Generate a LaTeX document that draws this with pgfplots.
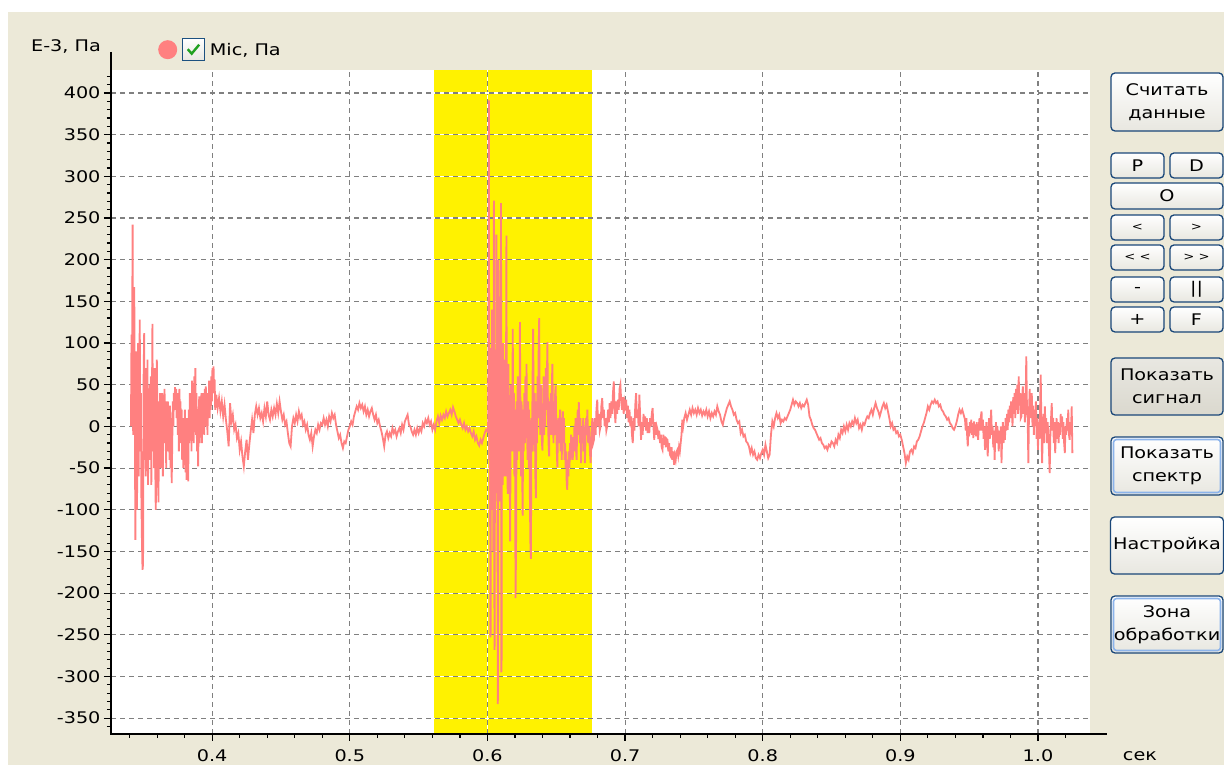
\documentclass[border=0pt]{standalone}
\usepackage{pgfplots}
\pgfplotsset{compat=1.18}
\usepackage{fontspec}
\setmainfont{DejaVu Sans}[FakeStretch=1.2]
\definecolor{pagebg}{RGB}{236,233,216}
\definecolor{sigred}{RGB}{255,128,128}
\definecolor{zone}{RGB}{255,242,0}
\definecolor{gridgray}{RGB}{128,128,128}
\definecolor{btnborder}{RGB}{25,70,120}
\definecolor{btnbot}{RGB}{232,231,224}
\definecolor{btngray}{RGB}{218,216,206}
\definecolor{focusblue}{RGB}{140,180,235}
\definecolor{chkborder}{RGB}{28,81,128}
\definecolor{chkgreen}{RGB}{33,161,33}
\newcommand\uifont{\fontsize{16}{23.5}\selectfont}
\tikzset{btn/.style={draw=btnborder, line width=1.3pt, rounded corners=4pt, top color=white, bottom color=btnbot},
  btnlabel/.style={font=\uifont, align=center, inner sep=0pt}}
\begin{document}
\begin{tikzpicture}[x=1pt,y=1pt]
\useasboundingbox (0,0) rectangle (1224,765);
\fill[white] (0,0) rectangle (1224,765);
\fill[pagebg] (8,0) rectangle (1224,753);
\fill[white] (111,31) rectangle (1090,695);
\begin{axis}[at={(111pt,31pt)}, anchor=south west, scale only axis, width=979pt, height=664pt,
  xmin=0.3265, xmax=1.0378, ymin=-369, ymax=427.6, hide axis]
\addplot[fill=zone, draw=none] coordinates {(0.5610,-369) (0.6758,-369) (0.6758,427.6) (0.5610,427.6)} -- cycle;
\end{axis}
\begin{axis}[at={(111pt,31pt)}, anchor=south west, scale only axis, width=979pt, height=664pt,
  xmin=0.3265, xmax=1.0378, ymin=-369, ymax=427.6,
  axis line style={draw=none},
  tick pos=left, tick align=outside,
  major tick length=7pt, minor tick length=4pt,
  every tick/.style={black, line width=1.2pt},
  xtick={0.4,0.5,0.6,0.7,0.8,0.9,1.0},
  xticklabels={0.4,0.5,0.6,0.7,0.8,0.9,1.0},
  minor xtick={0.34,0.36,0.38,0.42,0.44,0.46,0.48,0.52,0.54,0.56,0.58,0.62,0.64,0.66,0.68,0.72,0.74,0.76,0.78,0.82,0.84,0.86,0.88,0.92,0.94,0.96,0.98,1.02},
  ytick={-350,-300,...,400},
  minor ytick={-360,-350,...,420},
  xmajorgrids, ymajorgrids,
  major grid style={draw=white, line width=1.1pt, postaction={draw=gridgray, dash pattern=on 5pt off 4pt}},
  tick label style={font=\uifont},
  xticklabel style={yshift=-5pt},
  /pgf/number format/assume math mode=true,
  ylabel={E-3, Па},
  ylabel style={rotate=-90, at={(axis description cs:-0.0102,1.036)}, anchor=east, font=\uifont, inner sep=0pt},
  xlabel={сек},
  xlabel style={at={(axis description cs:1.051,-0.033)}, anchor=center, font=\uifont, inner sep=0pt},
  legend style={at={(axis description cs:0.048,1.0306)}, anchor=west, draw=none, fill=none, inner sep=0pt, font=\uifont},
  legend image code/.code={
    \fill[sigred, draw=none] (9.5pt,0pt) circle (9.5pt);
    \draw[line width=1.3pt, draw=chkborder, top color=white, bottom color=btnbot] (24pt,-11pt) rectangle (46pt,11pt);
    \draw[line width=2.4pt, draw=chkgreen] (29.5pt,0.5pt) -- (33.5pt,-4pt) -- (41pt,5pt);
  },
]
\addplot[sigred, line width=1.8pt] table[row sep=\\] {x y\\
0.3410 0\\ 0.3414 110\\ 0.3418 80\\ 0.3422 242\\ 0.3426 -10\\ 0.3430 60\\ 0.3434 167\\ 0.3438 20\\ 0.3442 -136\\ 0.3446 -40\\
0.3450 90\\ 0.3454 -100\\ 0.3458 30\\ 0.3462 100\\ 0.3466 -60\\ 0.3470 50\\ 0.3474 128\\ 0.3478 -30\\ 0.3482 40\\ 0.3486 -90\\
0.3490 -140\\ 0.3494 -172\\ 0.3498 -165\\ 0.3502 60\\ 0.3506 112\\ 0.3510 -40\\ 0.3514 20\\ 0.3518 -60\\ 0.3522 70\\ 0.3526 -20\\
0.3530 80\\ 0.3534 -70\\ 0.3538 30\\ 0.3542 -40\\ 0.3546 50\\ 0.3550 -30\\ 0.3554 60\\ 0.3558 -70\\ 0.3562 20\\ 0.3566 123\\
0.3570 -30\\ 0.3574 50\\ 0.3578 -50\\ 0.3582 70\\ 0.3586 -40\\ 0.3590 -100\\ 0.3594 -60\\ 0.3598 80\\ 0.3602 10\\ 0.3606 -40\\
0.3610 -91\\ 0.3614 30\\ 0.3618 -20\\ 0.3622 40\\ 0.3626 -50\\ 0.3630 30\\ 0.3634 -30\\ 0.3638 40\\ 0.3642 -60\\ 0.3646 20\\
0.3650 -20\\ 0.3654 45\\ 0.3658 -10\\ 0.3662 30\\ 0.3666 -50\\ 0.3670 20\\ 0.3674 -30\\ 0.3678 30\\ 0.3682 -20\\ 0.3686 10\\
0.3690 -40\\ 0.3694 25\\ 0.3698 -50\\ 0.3702 10\\ 0.3706 -68\\ 0.3710 -20\\ 0.3714 30\\ 0.3718 0\\ 0.3722 40\\ 0.3726 20\\
0.3730 47\\ 0.3734 30\\ 0.3738 45\\ 0.3742 10\\ 0.3746 40\\ 0.3750 -10\\ 0.3754 30\\ 0.3758 -30\\ 0.3762 45\\ 0.3766 10\\
0.3770 30\\ 0.3774 -20\\ 0.3778 20\\ 0.3782 -40\\ 0.3786 0\\ 0.3790 -50\\ 0.3794 10\\ 0.3798 -30\\ 0.3802 20\\ 0.3806 -55\\
0.3810 -20\\ 0.3814 -64\\ 0.3818 10\\ 0.3822 -40\\ 0.3826 -66\\ 0.3830 20\\ 0.3834 -20\\ 0.3838 40\\ 0.3842 -10\\ 0.3846 30\\
0.3850 -30\\ 0.3854 55\\ 0.3858 0\\ 0.3862 40\\ 0.3866 -20\\ 0.3870 60\\ 0.3874 10\\ 0.3878 70\\ 0.3882 -10\\ 0.3886 40\\
0.3890 -30\\ 0.3894 20\\ 0.3898 -48\\ 0.3902 10\\ 0.3906 36\\ 0.3910 -20\\ 0.3914 30\\ 0.3918 0\\ 0.3922 40\\ 0.3926 -20\\
0.3930 30\\ 0.3934 10\\ 0.3938 40\\ 0.3942 -10\\ 0.3946 45\\ 0.3950 10\\ 0.3954 48\\ 0.3958 0\\ 0.3962 30\\ 0.3966 -10\\
0.3970 40\\ 0.3974 20\\ 0.3978 55\\ 0.3982 10\\ 0.3986 45\\ 0.3990 20\\ 0.3994 60\\ 0.3998 30\\ 0.4002 70\\ 0.4006 40\\
0.4010 72\\ 0.4014 45\\ 0.4018 56\\ 0.4022 20\\
0.403 38\\ 0.404 22\\ 0.405 34\\ 0.406 18\\ 0.407 30\\ 0.408 12\\ 0.409 26\\ 0.410 8\\ 0.411 -6\\ 0.412 -24\\
0.413 28\\ 0.414 6\\ 0.415 14\\ 0.416 -4\\ 0.417 2\\ 0.418 -14\\ 0.419 -8\\ 0.420 -28\\ 0.421 -18\\ 0.422 -36\\
0.423 -48\\ 0.424 -30\\ 0.425 -16\\ 0.426 -40\\ 0.427 -22\\ 0.428 -6\\ 0.429 8\\ 0.430 -8\\ 0.431 14\\ 0.432 24\\
0.433 14\\ 0.434 22\\ 0.435 10\\ 0.436 16\\ 0.437 6\\ 0.438 22\\ 0.439 12\\ 0.440 30\\ 0.441 14\\ 0.442 8\\
0.443 20\\ 0.444 12\\ 0.445 22\\ 0.446 14\\ 0.447 27\\ 0.448 16\\ 0.449 30\\ 0.450 18\\ 0.451 8\\ 0.452 14\\
0.453 2\\ 0.454 6\\ 0.455 -8\\ 0.456 -20\\ 0.457 -24\\ 0.458 0\\ 0.459 10\\ 0.460 4\\ 0.461 14\\ 0.462 6\\
0.463 18\\ 0.464 10\\ 0.465 14\\ 0.466 2\\ 0.467 6\\ 0.468 -4\\ 0.469 2\\ 0.470 -10\\ 0.471 -16\\ 0.472 -8\\
0.473 -24\\ 0.474 -12\\ 0.475 -4\\ 0.476 -8\\ 0.477 2\\ 0.478 -4\\ 0.479 4\\ 0.480 2\\ 0.481 10\\ 0.482 2\\
0.483 8\\ 0.484 0\\ 0.485 12\\ 0.486 6\\ 0.487 16\\ 0.488 10\\ 0.489 14\\ 0.490 2\\ 0.491 -6\\ 0.492 -14\\
0.493 -10\\ 0.494 -20\\ 0.495 -26\\ 0.496 -18\\ 0.497 -20\\ 0.498 -12\\ 0.499 -4\\ 0.500 0\\ 0.501 6\\ 0.502 2\\
0.503 12\\ 0.504 18\\ 0.505 24\\ 0.506 20\\ 0.507 28\\ 0.508 22\\ 0.509 26\\ 0.510 18\\ 0.511 24\\ 0.512 14\\
0.513 20\\ 0.514 12\\ 0.515 18\\ 0.516 22\\ 0.517 14\\ 0.518 8\\ 0.519 14\\ 0.520 4\\ 0.521 8\\ 0.522 0\\
0.523 -6\\ 0.524 -14\\ 0.525 -24\\ 0.526 -10\\ 0.527 -6\\ 0.528 -14\\ 0.529 -8\\ 0.530 -12\\ 0.531 -2\\ 0.532 -8\\
0.533 -4\\ 0.534 -12\\ 0.535 -6\\ 0.536 -2\\ 0.537 -8\\ 0.538 2\\ 0.539 -4\\ 0.540 6\\ 0.541 10\\ 0.542 14\\
0.543 2\\ 0.544 0\\ 0.545 -6\\ 0.546 -10\\ 0.547 -4\\ 0.548 -10\\ 0.549 -2\\ 0.550 -8\\ 0.551 -2\\ 0.552 -6\\
0.553 4\\ 0.554 0\\ 0.555 8\\ 0.556 4\\ 0.557 10\\ 0.558 2\\ 0.559 6\\ 0.560 -4\\ 0.561 2\\ 0.562 -4\\
0.563 6\\ 0.564 12\\ 0.565 4\\ 0.566 13\\ 0.567 8\\ 0.568 14\\ 0.569 10\\ 0.570 18\\ 0.571 12\\ 0.572 16\\
0.573 20\\ 0.574 14\\ 0.575 23\\ 0.576 18\\ 0.577 12\\ 0.578 8\\ 0.579 4\\ 0.580 8\\ 0.581 2\\ 0.582 -2\\
0.583 4\\ 0.584 -4\\ 0.585 0\\ 0.586 -6\\ 0.587 -2\\ 0.588 -8\\ 0.589 -12\\ 0.590 -6\\ 0.591 -16\\ 0.592 -12\\
0.593 -20\\ 0.594 -23\\ 0.595 -16\\ 0.596 -20\\ 0.597 -14\\ 0.598 -8\\ 0.599 -4\\ 0.600 -6\\
0.6005 0\\ 0.6008 90\\ 0.6011 391\\ 0.6013 -40\\ 0.6015 80\\ 0.6017 -120\\ 0.6019 94\\ 0.6021 -253\\ 0.6023 -250\\ 0.6025 60\\
0.6027 -80\\ 0.6029 90\\ 0.6031 -60\\ 0.6033 140\\ 0.6035 -100\\ 0.6037 85\\ 0.6039 -70\\ 0.6041 94\\ 0.6043 -150\\ 0.6045 60\\
0.6047 271\\ 0.6049 -30\\ 0.6051 -268\\ 0.6053 -260\\ 0.6055 80\\ 0.6057 -60\\ 0.6059 92\\ 0.6061 -80\\ 0.6063 50\\ 0.6065 230\\
0.6067 -40\\ 0.6069 70\\ 0.6071 -90\\ 0.6073 60\\ 0.6075 -333\\ 0.6077 -320\\ 0.6079 50\\ 0.6081 200\\ 0.6083 -70\\ 0.6085 90\\
0.6087 -60\\ 0.6089 70\\ 0.6091 -90\\ 0.6093 40\\ 0.6095 -80\\ 0.6097 80\\ 0.6099 268\\ 0.6101 -295\\ 0.6103 -280\\ 0.6105 60\\
0.6107 -40\\ 0.6109 90\\ 0.6111 -70\\ 0.6113 40\\ 0.6115 100\\ 0.6117 -60\\ 0.6119 50\\ 0.6121 -50\\ 0.6123 70\\ 0.6126 -20\\
0.6129 80\\ 0.6132 -60\\ 0.6135 60\\ 0.6138 229\\ 0.6141 -40\\ 0.6144 40\\ 0.6147 -81\\ 0.6150 20\\ 0.6153 75\\ 0.6156 -40\\
0.6159 30\\ 0.6162 -60\\ 0.6165 -138\\ 0.6168 -20\\ 0.6171 50\\ 0.6174 -30\\ 0.6177 40\\
0.6180 -20\\ 0.6184 117\\ 0.6188 -30\\ 0.6192 40\\ 0.6196 -60\\ 0.6200 20\\ 0.6204 -206\\ 0.6208 -150\\ 0.6212 30\\ 0.6216 -40\\
0.6220 60\\ 0.6224 -20\\ 0.6228 50\\ 0.6232 -30\\ 0.6236 125\\ 0.6240 10\\ 0.6244 -60\\ 0.6248 30\\ 0.6252 -50\\ 0.6256 -107\\
0.6260 20\\ 0.6264 -30\\ 0.6268 40\\ 0.6272 -20\\ 0.6276 60\\ 0.6280 0\\ 0.6284 75\\ 0.6288 -10\\ 0.6292 -40\\ 0.6296 30\\
0.6300 -50\\ 0.6304 20\\ 0.6308 -80\\ 0.6312 -140\\ 0.6316 -159\\ 0.6320 10\\ 0.6324 -30\\ 0.6328 60\\ 0.6332 117\\ 0.6336 20\\
0.6340 -30\\ 0.6344 40\\ 0.6348 -60\\ 0.6352 -86\\ 0.6356 30\\ 0.6360 -20\\ 0.6364 60\\ 0.6368 10\\ 0.6372 90\\ 0.6376 130\\
0.6380 20\\ 0.6384 -10\\ 0.6388 50\\ 0.6392 0\\ 0.6396 -20\\ 0.6400 -29\\ 0.6404 20\\ 0.6408 60\\ 0.6412 -10\\ 0.6416 40\\
0.6420 0\\ 0.6424 70\\ 0.6428 20\\ 0.6432 60\\ 0.6436 101\\ 0.6440 10\\ 0.6444 -20\\ 0.6448 -36\\ 0.6452 30\\ 0.6456 0\\
0.6460 40\\ 0.6464 -10\\ 0.6468 50\\ 0.6472 75\\ 0.6476 10\\ 0.6480 -20\\ 0.6484 30\\ 0.6488 -10\\ 0.6492 40\\ 0.6496 49\\
0.6500 0\\ 0.6504 -30\\ 0.6508 -49\\ 0.6512 -10\\ 0.6516 10\\ 0.6520 -20\\ 0.6524 0\\ 0.6528 20\\ 0.6532 -30\\ 0.6536 10\\
0.6540 -40\\ 0.6544 0\\ 0.6548 18\\ 0.6552 -20\\ 0.6556 10\\ 0.6560 -40\\ 0.6564 -20\\ 0.6568 -50\\ 0.6572 -30\\ 0.6576 -70\\
0.6580 -76\\ 0.6584 -40\\ 0.6588 -60\\ 0.6592 -30\\ 0.6596 -50\\ 0.6600 -20\\ 0.6604 -40\\ 0.6608 -10\\ 0.6612 -30\\ 0.6616 -13\\
0.6620 -40\\ 0.6624 -20\\ 0.6628 -30\\ 0.6632 0\\ 0.6636 -20\\ 0.6640 10\\ 0.6644 -30\\ 0.6648 -40\\ 0.6652 0\\ 0.6656 20\\
0.6660 -10\\ 0.6664 29\\ 0.6668 0\\ 0.6672 -20\\ 0.6676 10\\ 0.6680 -44\\ 0.6684 -20\\ 0.6688 0\\ 0.6692 -10\\ 0.6696 10\\
0.6700 -30\\ 0.6704 0\\ 0.6708 -44\\ 0.6712 -20\\ 0.6716 10\\
0.6720 -10\\ 0.6726 20\\ 0.6732 -20\\ 0.6738 0\\ 0.6744 -30\\ 0.6750 -44\\ 0.6756 -10\\ 0.6762 10\\ 0.6768 -20\\ 0.6774 -16\\
0.6780 10\\ 0.6786 -10\\ 0.6792 20\\ 0.6798 32\\ 0.6804 0\\ 0.6810 15\\ 0.6816 -5\\ 0.6822 0\\ 0.6828 25\\ 0.6834 34\\
0.6840 10\\ 0.6846 20\\ 0.6852 0\\ 0.6858 10\\ 0.6864 -5\\ 0.6870 0\\ 0.6876 20\\ 0.6882 5\\ 0.6888 28\\ 0.6894 10\\
0.6900 30\\ 0.6906 15\\ 0.6912 40\\ 0.6918 54\\ 0.6924 20\\ 0.6930 4\\ 0.6936 30\\ 0.6942 15\\ 0.6948 32\\ 0.6954 20\\
0.6960 45\\ 0.6966 50\\ 0.6972 30\\ 0.6978 20\\ 0.6984 35\\ 0.6990 15\\ 0.6996 30\\ 0.7002 25\\ 0.7008 32\\ 0.7014 10\\
0.7020 25\\ 0.7026 5\\ 0.7032 20\\ 0.7038 0\\ 0.7044 12\\ 0.7050 -10\\ 0.7056 -20\\ 0.7062 10\\ 0.7068 -5\\ 0.7074 25\\
0.7080 40\\ 0.7086 10\\ 0.7092 20\\ 0.7098 0\\ 0.7104 38\\ 0.7110 10\\ 0.7116 -16\\ 0.7122 5\\ 0.7128 -10\\ 0.7134 15\\
0.7140 0\\ 0.7146 12\\ 0.7152 -5\\ 0.7158 10\\ 0.7164 -8\\ 0.7170 5\\ 0.7176 -8\\ 0.7182 10\\ 0.7188 0\\ 0.7194 15\\
0.7200 22\\ 0.7206 0\\ 0.7212 -16\\ 0.7218 5\\ 0.7224 -10\\ 0.7230 0\\ 0.7236 -4\\ 0.7242 -15\\ 0.7248 -5\\ 0.7254 -20\\
0.7260 -10\\ 0.7266 -25\\ 0.7272 -28\\ 0.7278 -10\\ 0.7284 -22\\ 0.7290 -12\\ 0.7296 -25\\ 0.7302 -15\\ 0.7308 -16\\ 0.7314 -30\\
0.7320 -20\\ 0.7326 -34\\ 0.7332 -36\\ 0.7338 -25\\ 0.7344 -40\\ 0.7350 -30\\ 0.7356 -46\\ 0.7362 -35\\ 0.7368 -40\\ 0.7374 -30\\
0.7380 -28\\ 0.7386 -35\\ 0.7392 -25\\ 0.7398 -30\\ 0.7404 -20\\ 0.7410 -10\\ 0.7416 8\\ 0.7422 0\\
0.743 10\\ 0.744 16\\ 0.745 8\\ 0.746 14\\ 0.747 20\\ 0.748 14\\ 0.749 22\\ 0.750 16\\ 0.751 20\\ 0.752 14\\
0.753 22\\ 0.754 16\\ 0.755 20\\ 0.756 13\\ 0.757 18\\ 0.758 14\\ 0.759 20\\ 0.760 12\\ 0.761 18\\ 0.762 10\\
0.763 16\\ 0.764 12\\ 0.765 18\\ 0.766 14\\ 0.767 24\\ 0.768 18\\ 0.769 14\\ 0.770 6\\ 0.771 2\\ 0.772 10\\
0.773 16\\ 0.774 22\\ 0.775 26\\ 0.776 30\\ 0.777 24\\ 0.778 20\\ 0.779 14\\ 0.780 16\\ 0.781 8\\ 0.782 4\\
0.783 6\\ 0.784 -8\\ 0.785 -4\\ 0.786 -12\\ 0.787 -10\\ 0.788 -18\\ 0.789 -20\\ 0.790 -24\\ 0.791 -32\\ 0.792 -26\\
0.793 -34\\ 0.794 -30\\ 0.795 -38\\ 0.796 -40\\ 0.797 -34\\ 0.798 -38\\ 0.799 -32\\ 0.800 -28\\ 0.801 -34\\ 0.802 -22\\
0.803 -30\\ 0.804 -38\\ 0.805 -34\\ 0.806 -10\\ 0.807 6\\ 0.808 0\\ 0.809 10\\ 0.810 16\\ 0.811 10\\ 0.812 14\\
0.813 4\\ 0.814 8\\ 0.815 6\\ 0.816 10\\ 0.817 8\\ 0.818 12\\ 0.819 16\\ 0.820 20\\ 0.821 26\\ 0.822 32\\
0.823 26\\ 0.824 30\\ 0.825 28\\ 0.826 24\\ 0.827 28\\ 0.828 22\\ 0.829 26\\ 0.830 24\\ 0.831 28\\ 0.832 32\\
0.833 26\\ 0.834 12\\ 0.835 8\\ 0.836 2\\ 0.837 -2\\ 0.838 -4\\ 0.839 -8\\ 0.840 -12\\ 0.841 -16\\ 0.842 -14\\
0.843 -20\\ 0.844 -22\\ 0.845 -26\\ 0.846 -24\\ 0.847 -28\\ 0.848 -22\\ 0.849 -24\\ 0.850 -18\\
0.851 -20\\ 0.852 -24\\ 0.853 -16\\ 0.854 -20\\ 0.855 -10\\ 0.856 -14\\ 0.857 -4\\ 0.858 -8\\ 0.859 0\\ 0.860 -6\\
0.861 2\\ 0.862 -4\\ 0.863 4\\ 0.864 0\\ 0.865 6\\ 0.866 2\\ 0.867 10\\ 0.868 4\\ 0.869 8\\ 0.870 -2\\
0.871 2\\ 0.872 -4\\ 0.873 4\\ 0.874 2\\ 0.875 8\\ 0.876 12\\ 0.877 10\\ 0.878 16\\ 0.879 20\\ 0.880 14\\
0.881 22\\ 0.882 28\\ 0.883 22\\ 0.884 18\\ 0.885 12\\ 0.886 18\\ 0.887 24\\ 0.888 28\\ 0.889 22\\ 0.890 26\\
0.891 18\\ 0.892 10\\ 0.893 0\\ 0.894 4\\ 0.895 -4\\ 0.896 -2\\ 0.897 -8\\ 0.898 -6\\ 0.899 -12\\ 0.900 -10\\
0.901 -16\\ 0.902 -24\\ 0.903 -32\\ 0.904 -44\\ 0.905 -36\\ 0.906 -40\\ 0.907 -30\\ 0.908 -28\\ 0.909 -32\\ 0.910 -24\\
0.911 -26\\ 0.912 -18\\ 0.913 -16\\ 0.914 -12\\ 0.915 -6\\ 0.916 0\\ 0.917 4\\ 0.918 10\\ 0.919 16\\ 0.920 24\\
0.921 20\\ 0.922 26\\ 0.923 30\\ 0.924 28\\ 0.925 32\\ 0.926 28\\ 0.927 30\\ 0.928 24\\ 0.929 26\\ 0.930 20\\
0.931 18\\ 0.932 14\\ 0.933 12\\ 0.934 8\\ 0.935 10\\ 0.936 4\\ 0.937 2\\ 0.938 -2\\ 0.939 -4\\ 0.940 0\\
0.941 6\\ 0.942 14\\ 0.943 20\\ 0.944 16\\ 0.945 20\\ 0.946 14\\
0.9470 8\\ 0.9475 -5\\ 0.9480 10\\ 0.9485 -10\\ 0.9490 -24\\ 0.9495 0\\ 0.9500 -12\\ 0.9505 5\\ 0.9510 -8\\ 0.9515 8\\
0.9520 -10\\ 0.9525 4\\ 0.9530 -14\\ 0.9535 6\\ 0.9540 -10\\ 0.9545 2\\ 0.9550 -12\\ 0.9555 5\\ 0.9560 -8\\ 0.9565 -16\\
0.9570 0\\ 0.9575 10\\ 0.9580 -5\\ 0.9585 12\\ 0.9590 18\\ 0.9595 -5\\ 0.9600 8\\ 0.9605 -15\\ 0.9610 0\\ 0.9615 -28\\
0.9620 -10\\ 0.9625 5\\ 0.9630 -20\\ 0.9635 -36\\ 0.9640 -5\\ 0.9645 10\\ 0.9650 -15\\ 0.9655 5\\ 0.9660 20\\ 0.9665 -10\\
0.9670 0\\ 0.9675 -25\\ 0.9680 -5\\ 0.9685 -40\\ 0.9690 -10\\ 0.9695 5\\ 0.9700 -20\\ 0.9705 0\\ 0.9710 -12\\ 0.9715 -30\\
0.9720 -5\\ 0.9725 -20\\ 0.9730 0\\ 0.9735 -44\\ 0.9740 -10\\ 0.9745 5\\ 0.9750 -20\\ 0.9755 0\\ 0.9760 -16\\ 0.9765 10\\
0.9770 -5\\ 0.9775 15\\ 0.9780 -4\\ 0.9785 20\\ 0.9790 5\\ 0.9795 25\\ 0.9800 10\\ 0.9805 30\\ 0.9810 24\\ 0.9815 0\\
0.9820 35\\ 0.9825 15\\ 0.9830 40\\ 0.9835 10\\ 0.9840 45\\ 0.9845 20\\ 0.9850 50\\ 0.9855 15\\ 0.9860 60\\ 0.9865 25\\
0.9870 40\\ 0.9875 10\\ 0.9880 12\\ 0.9885 35\\ 0.9890 48\\ 0.9895 15\\ 0.9900 40\\ 0.9905 5\\ 0.9910 30\\ 0.9915 84\\
0.9920 20\\ 0.9925 10\\ 0.9930 -44\\ 0.9935 20\\ 0.9940 45\\ 0.9945 10\\ 0.9950 30\\ 0.9955 40\\ 0.9960 0\\ 0.9965 25\\
0.9970 -10\\ 0.9975 20\\ 0.9980 4\\ 0.9985 30\\ 0.9990 -15\\ 0.9995 10\\ 1.0000 -28\\ 1.0005 5\\ 1.0010 -15\\ 1.0015 20\\
1.0020 62\\ 1.0025 0\\ 1.0030 -44\\ 1.0035 -10\\ 1.0040 15\\ 1.0045 -20\\ 1.0050 24\\ 1.0055 -5\\ 1.0060 10\\ 1.0065 -20\\
1.0070 5\\ 1.0075 -8\\ 1.0080 -30\\ 1.0085 -56\\ 1.0090 -10\\ 1.0095 10\\ 1.0100 28\\ 1.0105 -5\\ 1.0110 10\\ 1.0115 -20\\
1.0120 5\\ 1.0125 -32\\ 1.0130 -10\\ 1.0135 10\\ 1.0140 -15\\ 1.0145 5\\ 1.0150 -20\\ 1.0155 4\\ 1.0160 -10\\ 1.0165 15\\
1.0170 0\\ 1.0175 12\\ 1.0180 -15\\ 1.0185 5\\ 1.0190 -20\\ 1.0195 -32\\ 1.0200 0\\ 1.0205 -10\\ 1.0210 10\\ 1.0215 -5\\
1.0220 20\\ 1.0225 -10\\ 1.0230 -16\\ 1.0235 5\\ 1.0240 -5\\ 1.0245 24\\ 1.0250 -32\\
};
\addlegendentry{\hspace{3pt}Mic, Па}
\end{axis}
\draw[black, line width=1.6pt] (111,713) -- (111,31) -- (1107,31);
% buttons
\path[btn] (1111,634) rectangle (1223,692);
\node[btnlabel] at (1167,663) {Считать\\данные};
\path[btn] (1111,587) rectangle (1164,612); \node[btnlabel] at (1137.5,599.5) {P};
\path[btn] (1170,587) rectangle (1223,612); \node[btnlabel] at (1196.5,599.5) {D};
\path[btn] (1111,556) rectangle (1223,582); \node[btnlabel] at (1167,569) {O};
\path[btn] (1111,525) rectangle (1164,550); \node[btnlabel,font=\fontsize{11}{12}\selectfont] at (1137.5,537.5) {<};
\path[btn] (1170,525) rectangle (1223,550); \node[btnlabel,font=\fontsize{11}{12}\selectfont] at (1196.5,537.5) {>};
\path[btn] (1111,495) rectangle (1164,520); \node[btnlabel,font=\fontsize{11}{12}\selectfont] at (1137.5,507.5) {< <};
\path[btn] (1170,495) rectangle (1223,520); \node[btnlabel,font=\fontsize{11}{12}\selectfont] at (1196.5,507.5) {> >};
\path[btn] (1111,463) rectangle (1164,488); \node[btnlabel] at (1137.5,475.5) {-};
\path[btn] (1170,463) rectangle (1223,488); \node[btnlabel] at (1196.5,475.5) {||};
\path[btn] (1111,433) rectangle (1164,458); \node[btnlabel] at (1137.5,445.5) {+};
\path[btn] (1170,433) rectangle (1223,458); \node[btnlabel] at (1196.5,445.5) {F};
\path[btn, top color=btngray!60, bottom color=btngray] (1111,350) rectangle (1223,407);
\node[btnlabel] at (1167,378.5) {Показать\\сигнал};
\path[btn] (1111,270) rectangle (1223,328);
\draw[focusblue, line width=1.6pt, rounded corners=3pt] (1113.5,272.5) rectangle (1220.5,325.5);
\node[btnlabel] at (1167,299) {Показать\\спектр};
\path[btn] (1110.5,191) rectangle (1223.5,248);
\node[btnlabel] at (1167,219.5) {Настройка};
\path[btn] (1111,112) rectangle (1223,169);
\draw[focusblue, line width=1.6pt, rounded corners=3pt] (1113.5,114.5) rectangle (1220.5,166.5);
\node[btnlabel] at (1167,140.5) {Зона\\обработки};
\end{tikzpicture}
\end{document}
